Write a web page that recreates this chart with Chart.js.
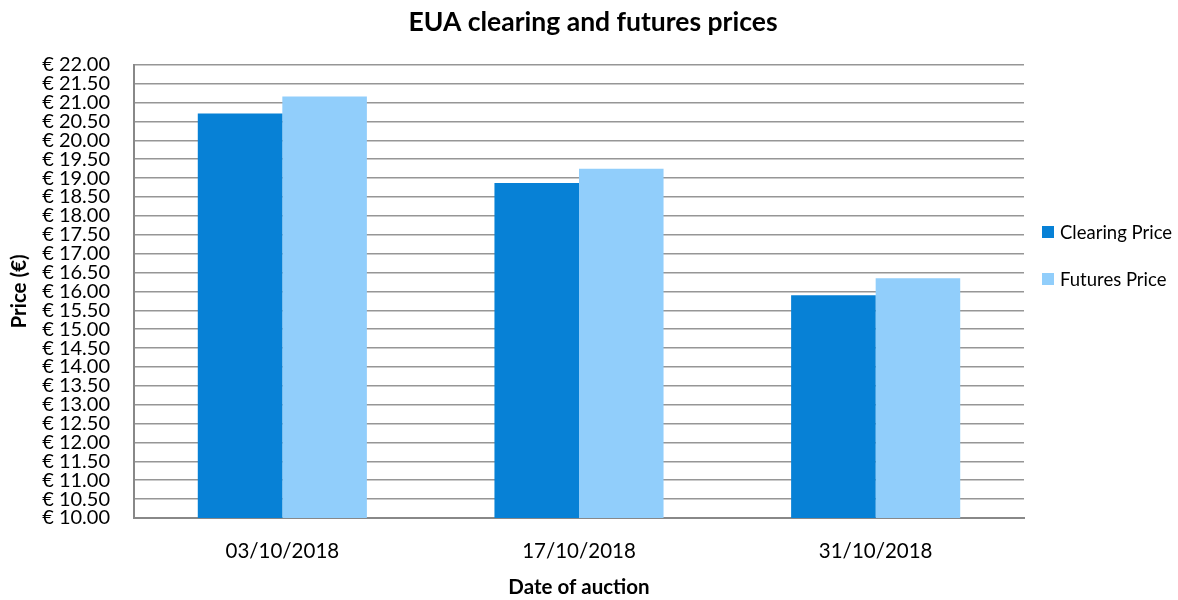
<!DOCTYPE html>
<html>
<head>
<meta charset="utf-8">
<script src="https://cdn.jsdelivr.net/npm/chart.js@4"></script>
<style>
  html, body { margin: 0; padding: 0; background: #fff; }
  #wrap { width: 1178px; height: 600px; }
</style>
</head>
<body>
<div id="wrap"><canvas id="chart"></canvas></div>
<script>
// auction dates and prices
const auctionDates = ['03/10/2018', '17/10/2018', '31/10/2018'];
const clearingPrice = [20.71, 18.87, 15.90];
const futuresPrice = [21.16, 19.25, 16.35];

const fontFamily = 'Lato, "Open Sans", sans-serif';

// legend on the right, Excel style (wide gap between entries, small box close to the plot)
const sideLegend = {
    id: 'sideLegend',
    afterLayout(chart) {
        // title is centred over the whole canvas, not just the plot
        const t = chart.titleBlock;
        if (t) {
            t.left = 0;
            t.right = chart.width + 8;
            t.width = t.right;
        }
    },
    afterDraw(chart) {
        const ctx = chart.ctx;
        const area = chart.chartArea;
        const x = area.right + 18;
        const y0 = 232;
        ctx.save();
        ctx.font = '18.5px ' + fontFamily;
        ctx.textBaseline = 'middle';
        ctx.textAlign = 'left';
        chart.data.datasets.forEach((ds, i) => {
            const y = y0 + i * 47;
            ctx.fillStyle = ds.backgroundColor;
            ctx.fillRect(x, y - 6, 12, 12);
            ctx.fillStyle = '#000';
            ctx.fillText(ds.label, x + 18, y + 1);
        });
        ctx.restore();
    }
};

const ctx = document.getElementById('chart').getContext('2d');
new Chart(ctx, {
    type: 'bar',
    data: {
        labels: auctionDates,
        datasets: [{
            label: 'Clearing Price',
            data: clearingPrice,
            backgroundColor: '#0781d6',
            borderWidth: 0
        }, {
            label: 'Futures Price',
            data: futuresPrice,
            backgroundColor: '#91cefb',
            borderWidth: 0
        }]
    },
    plugins: [sideLegend],
    options: {
        responsive: true,
        maintainAspectRatio: false,
        animation: false,
        layout: { padding: { left: 0, right: 154, top: 0, bottom: 0 } },
        datasets: {
            bar: { barPercentage: 1, categoryPercentage: 0.57 }
        },
        plugins: {
            title: {
                display: true,
                text: 'EUA clearing and futures prices',
                color: '#000',
                font: { family: fontFamily, size: 26.5, weight: 'bold' },
                padding: { top: 7, bottom: 26 }
            },
            legend: { display: false },
            tooltip: { enabled: false }
        },
        scales: {
            x: {
                afterFit: scale => { scale.height = 82; },
                grid: { display: false, drawTicks: false },
                border: { color: '#888', width: 2 },
                ticks: {
                    color: '#000',
                    maxRotation: 0,
                    font: { family: fontFamily, size: 20.5 },
                    padding: 21
                },
                title: {
                    display: true,
                    text: 'Date of auction',
                    color: '#000',
                    font: { family: fontFamily, size: 20.5, weight: 'bold' },
                    padding: { top: 0, bottom: 0 }
                }
            },
            y: {
                min: 10,
                max: 22,
                afterFit: scale => { scale.width = 134; },
                grid: { color: '#969696', lineWidth: 1.5, drawTicks: false },
                border: { color: '#888', width: 2 },
                ticks: {
                    stepSize: 0.5,
                    autoSkip: false,
                    color: '#000',
                    font: { family: fontFamily, size: 20, lineHeight: 0.9 },
                    padding: 24,
                    callback: v => '€ ' + Number(v).toFixed(2)
                },
                title: {
                    display: true,
                    text: 'Price (€)',
                    color: '#000',
                    font: { family: fontFamily, size: 20.5, weight: 'bold' },
                    padding: { top: 7, bottom: 4 }
                }
            }
        }
    }
});
</script>
</body>
</html>
